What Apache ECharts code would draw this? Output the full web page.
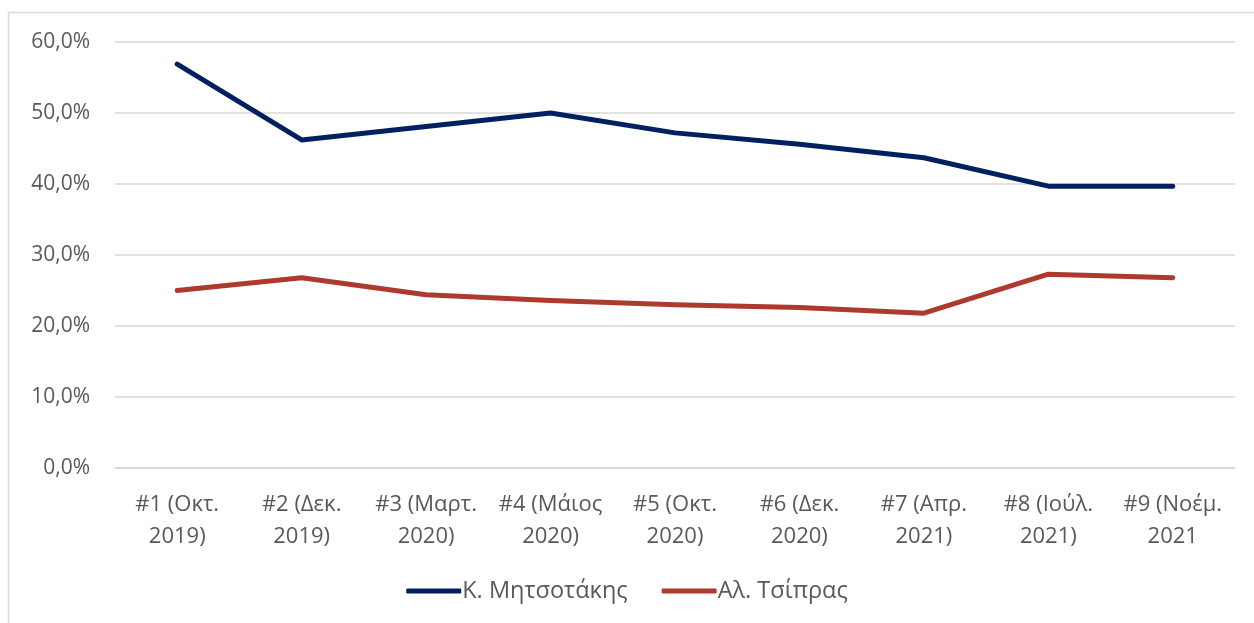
<!DOCTYPE html>
<html>
<head>
<meta charset="utf-8">
<script src="https://cdn.jsdelivr.net/npm/echarts@6/dist/echarts.min.js"></script>
<style>
html,body{margin:0;padding:0;background:#fff;}
#chart{width:1254px;height:623px;}
</style>
</head>
<body>
<div id="chart"></div>
<script>
const categories = ['#1 (Οκτ.\n2019)', '#2 (Δεκ.\n2019)', '#3 (Μαρτ.\n2020)', '#4 (Μάιος\n2020)', '#5 (Οκτ.\n2020)', '#6 (Δεκ.\n2020)', '#7 (Απρ.\n2021)', '#8 (Ιούλ.\n2021)', '#9 (Νοέμ.\n2021'];
const mitsotakis = [56.9, 46.2, 48.1, 50.0, 47.2, 45.6, 43.7, 39.7, 39.7];
const tsipras = [25.0, 26.8, 24.4, 23.6, 23.0, 22.6, 21.8, 27.3, 26.8];
const seriesNames = ['Κ. Μητσοτάκης', 'Αλ. Τσίπρας'];
const yTicks = [0, 10, 20, 30, 40, 50, 60];

const FONT = '"Open Sans", "Noto Sans", sans-serif';
const chart = echarts.init(document.getElementById('chart'));
chart.setOption({
  animation: false,
  backgroundColor: '#fff',
  textStyle: { fontFamily: FONT },
  graphic: [{
    type: 'rect', silent: true,
    shape: { x: 8.5, y: 12.5, width: 1400, height: 800 },
    style: { fill: 'none', stroke: '#d9d9d9', lineWidth: 1.5 }
  }],
  grid: { left: 115, right: 19, top: 42, bottom: 155, containLabel: false },
  legend: {
    bottom: 15, left: 'center',
    itemWidth: 55, itemHeight: 5, itemGap: 34,
    icon: 'roundRect',
    textStyle: { fontSize: 23.5, color: '#595959', fontFamily: FONT, padding: [0, 0, 0, -4] },
    data: seriesNames
  },
  xAxis: {
    type: 'category', data: categories, boundaryGap: true,
    axisLine: { show: true, lineStyle: { color: '#d9d9d9', width: 1.5 } },
    axisTick: { show: false },
    axisLabel: { fontSize: 22, color: '#595959', lineHeight: 32, margin: 21, interval: 0, fontFamily: FONT }
  },
  yAxis: {
    type: 'value', min: yTicks[0], max: yTicks[yTicks.length - 1], interval: 10,
    axisLine: { show: false }, axisTick: { show: false },
    splitLine: { lineStyle: { color: '#d9d9d9', width: 1.5 } },
    axisLabel: {
      fontSize: 21, color: '#595959', margin: 25, fontFamily: FONT,
      formatter: v => v.toFixed(1).replace('.', ',') + '%'
    }
  },
  series: [
    { name: seriesNames[0], type: 'line', data: mitsotakis, symbol: 'none',
      color: '#002060', lineStyle: { width: 5, cap: 'round', join: 'round', color: '#002060' } },
    { name: seriesNames[1], type: 'line', data: tsipras, symbol: 'none',
      color: '#ae3a2f', lineStyle: { width: 5, cap: 'round', join: 'round', color: '#ae3a2f' } }
  ]
});
</script>
</body>
</html>
